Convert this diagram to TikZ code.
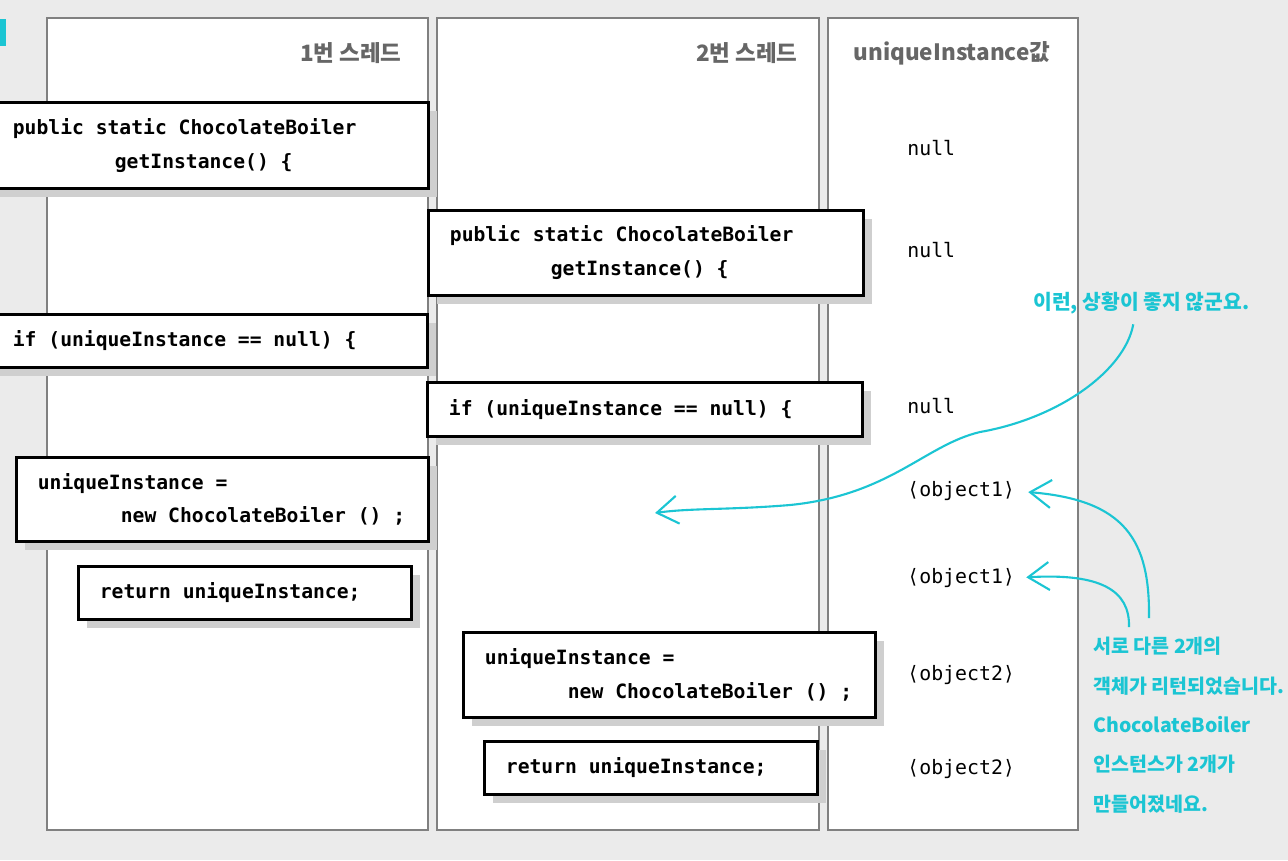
\documentclass[tikz,border=0pt]{standalone}
\usepackage{fontspec}
\usepackage{tikz}
\setmonofont{DejaVu Sans Mono}
\newfontfamily\kor{Noto Sans CJK KR}
\usetikzlibrary{arrows.meta,shadows}
\definecolor{bggray}{HTML}{EBEBEB}
\definecolor{laneline}{HTML}{808080}
\definecolor{headgray}{HTML}{666666}
\definecolor{shadowgray}{HTML}{CFCFCF}
\definecolor{penblue}{RGB}{27,197,211}
\newcommand{\codefont}{\ttfamily\bfseries\fontsize{11.2}{19.3}\selectfont}

\begin{document}
\begin{tikzpicture}[x=0.02cm, y=-0.02cm]
      \tikzstyle lane=[draw=laneline, line width=0.8pt, fill=white];
      \tikzstyle codebox=[draw=black, line width=1.6pt, fill=white, anchor=north west,
         inner xsep=0.43cm, inner ysep=0pt, align=flush left, font=\codefont,
         drop shadow={shadow xshift=0.18cm, shadow yshift=-0.18cm, fill=shadowgray, opacity=1}];
      \tikzstyle head=[font=\kor\bfseries\fontsize{12.8}{15}\selectfont, text=headgray, inner sep=0pt];
      \tikzstyle value=[font=\ttfamily\fontsize{11.3}{14}\selectfont, anchor=west, inner sep=0pt];
      \tikzstyle note=[font=\kor\bfseries\fontsize{11.6}{22.4}\selectfont, text=penblue, inner sep=0pt];
      \tikzstyle pen=[draw=penblue, line width=1.2pt, -{Straight Barb[length=0.42cm, width=0.56cm]}];

      \useasboundingbox (0, 0) rectangle (1288, 860);
      \fill[bggray] (0, 0) rectangle (1288, 860);
      \fill[penblue] (0, 19) rectangle (6, 46);

      %three lanes
      \draw[lane] (47, 18) rectangle (428, 830);
      \draw[lane] (437, 18) rectangle (819, 830);
      \draw[lane] (828, 18) rectangle (1078, 830);

      \node[head, anchor=east] (h1) at (402, 53) {1번 스레드};
      \node[head, anchor=east] (h2) at (798, 53) {2번 스레드};
      \node[head] (h3) at (952, 53) {uniqueInstance값};

      %thread 1 and thread 2, top to bottom
      \node[codebox, text width=7.88cm, minimum height=1.72cm] (a1) at (-10, 101)
         {\spaceskip=6.74pt public static ChocolateBoiler\\\hspace*{2.04cm}getInstance() \{};
      \node[codebox, text width=7.84cm, minimum height=1.70cm] (b1) at (427, 209)
         {\spaceskip=6.74pt public static ChocolateBoiler\\\hspace*{2.02cm}getInstance() \{};
      \node[codebox, text width=7.86cm, minimum height=1.06cm] (a2) at (-10, 313)
         {\spaceskip=6.74pt if (uniqueInstance == null) \{};
      \node[codebox, text width=7.84cm, minimum height=1.08cm] (b2) at (426, 381)
         {\spaceskip=6.74pt if (uniqueInstance == null) \{};
      \node[codebox, text width=7.38cm, minimum height=1.68cm] (a3) at (15, 456)
         {\spaceskip=6.74pt uniqueInstance =\\\hspace*{1.66cm}new ChocolateBoiler () ;};
      \node[codebox, text width=5.80cm, minimum height=1.06cm] (a4) at (77, 565)
         {\spaceskip=6.74pt return uniqueInstance;};
      \node[codebox, text width=7.38cm, minimum height=1.70cm] (b3) at (462, 631)
         {\spaceskip=6.74pt uniqueInstance =\\\hspace*{1.66cm}new ChocolateBoiler () ;};
      \node[codebox, text width=5.80cm, minimum height=1.06cm] (b4) at (483, 740)
         {\spaceskip=6.74pt return uniqueInstance;};

      %values of uniqueInstance
      \node[value] (v1) at (907, 148) {null};
      \node[value] (v2) at (907, 250) {null};
      \node[value] (v3) at (907, 406) {null};
      \node[value] (v4) at (907, 491) {⟨object1⟩};
      \node[value] (v5) at (907, 578) {⟨object1⟩};
      \node[value] (v6) at (907, 675) {⟨object2⟩};
      \node[value] (v7) at (907, 769) {⟨object2⟩};

      %handwritten notes
      \node[note, anchor=west] (n1) at (1033, 303) {이런, 상황이 좋지 않군요.};
      \node[note, anchor=north west, align=left, font=\kor\bfseries\fontsize{11.1}{22.4}\selectfont] (n2) at (1093, 637)
         {서로 다른 2개의\\객체가 리턴되었습니다.\\ChocolateBoiler\\인스턴스가 2개가\\만들어졌네요.};

      \coordinate (hit) at (655, 513);
      \draw[pen] ([xshift=-0.16cm, yshift=-0.2cm]n1.south) .. controls (1125, 370) and (1060, 418) .. (980, 432)
         .. controls (925, 445) and (890, 495) .. (790, 505) .. controls (730, 510) and (690, 508) .. (hit);
      \draw[pen, shorten >=0.26cm] ([xshift=1.12cm, yshift=0.38cm]n2.north west)
         .. controls (1150, 540) and (1125, 500) .. (v4.east);
      \draw[pen, shorten >=0.22cm] ([xshift=0.72cm, yshift=0.2cm]n2.north west)
         .. controls (1130, 590) and (1100, 573) .. (v5.east);

   \end{tikzpicture}
\end{document}
